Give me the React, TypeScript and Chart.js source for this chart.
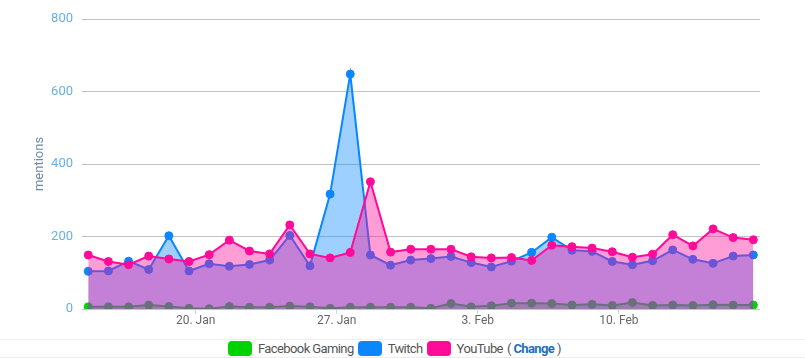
import React, { useEffect, useRef } from "react";
import { Chart, registerables } from "chart.js";

Chart.register(...registerables);

// Point 0 = 14 Jan, 16:00; one point per day
const facebookGaming = [6, 6, 6, 11, 7, 2, 1, 7, 5, 5, 8, 6, 2, 5, 5, 5, 5, 2, 15, 6, 9, 16, 16, 15, 11, 13, 10, 18, 10, 11, 10, 12, 11, 11];
const twitch = [104, 105, 132, 109, 202, 105, 125, 118, 123, 135, 203, 119, 317, 648, 149, 121, 135, 139, 145, 128, 116, 132, 156, 198, 162, 159, 131, 122, 133, 163, 137, 126, 146, 149];
const youtube = [149, 131, 122, 146, 138, 131, 150, 190, 160, 152, 232, 152, 141, 156, 351, 157, 165, 165, 165, 144, 141, 142, 134, 176, 172, 168, 158, 143, 151, 205, 174, 221, 197, 191];
const tickDays = [5.33, 12.33, 19.33, 26.33];
const tickLabels = ["20. Jan", "27. Jan", "3. Feb", "10. Feb"];
const yTicks = [0, 200, 400, 600, 800];
const seriesNames = ["Facebook Gaming", "Twitch", "YouTube"];
const seriesColors = ["#00d400", "#0a86ff", "#ff0a99"];
const seriesFills = ["rgba(0,212,0,0.4)", "rgba(10,134,255,0.4)", "rgba(255,10,153,0.4)"];

const FONT = 'Roboto, sans-serif';

export default function App() {
  const ref = useRef<HTMLCanvasElement | null>(null);

  useEffect(() => {
    document.body.style.margin = "0";
    const values = [facebookGaming, twitch, youtube];
    const datasets = values.map((vals, k) => ({
      label: seriesNames[k],
      data: vals.map((v, i) => ({ x: i, y: v })),
      borderColor: seriesColors[k],
      backgroundColor: seriesFills[k],
      pointBackgroundColor: seriesColors[k],
      pointBorderColor: seriesColors[k],
      pointRadius: 4,
      pointBorderWidth: 1,
      borderWidth: 2,
      tension: 0,
      fill: "origin",
      order: 2 - k,
    }));
    Chart.defaults.font.family = FONT;
    const chart = new Chart(ref.current!, {
      type: "line",
      data: { datasets },
      options: {
        animation: false,
        responsive: false,
        devicePixelRatio: 1,
        layout: { padding: { left: 0, right: 45, top: 19, bottom: 0 } },
        plugins: { legend: { display: false }, tooltip: { enabled: false } },
        scales: {
          x: {
            type: "linear",
            min: -0.31,
            max: 33.33,
            afterBuildTicks: (axis: any) => {
              axis.ticks = tickDays.map((v) => ({ value: v }));
            },
            afterFit: (axis: any) => {
              axis.height = 30;
            },
            ticks: {
              color: "#666666",
              font: { size: 12, family: FONT },
              padding: 0,
              maxRotation: 0,
              autoSkip: false,
              callback: (_v: any, i: number) => tickLabels[i],
            },
            grid: { drawOnChartArea: false, drawTicks: true, tickLength: 5, color: "#ccd6eb" },
            border: { display: false },
          },
          y: {
            min: 0,
            max: 800,
            afterBuildTicks: (axis: any) => {
              axis.ticks = yTicks.map((v) => ({ value: v }));
            },
            afterFit: (axis: any) => {
              axis.width = 82;
            },
            ticks: {
              color: "#6ab0e4",
              font: { size: 13, family: FONT },
              padding: 9,
            },
            grid: { color: "#c4c4c4", drawTicks: false, lineWidth: 1 },
            border: { display: false },
            title: {
              display: true,
              text: "mentions",
              color: "#6f8aa6",
              font: { size: 13, family: FONT },
              padding: { top: 32, bottom: 0 },
            },
          },
        },
      },
    });
    return () => chart.destroy();
  }, []);

  const legendItem = (k: number) => (
    <span key={k} style={{ display: "inline-flex", alignItems: "center", marginRight: 4 }}>
      <span
        style={{
          display: "inline-block",
          width: 24,
          height: 15,
          borderRadius: 4,
          background: seriesColors[k],
          marginRight: 6,
        }}
      />
      <span>{seriesNames[k]}</span>
    </span>
  );

  return (
    <div style={{ width: 805, height: 358, background: "#fff", position: "relative" }}>
      <canvas ref={ref} width={805} height={339} style={{ display: "block", width: 805, height: 339 }} />
      <div
        style={{
          position: "absolute",
          top: 339,
          left: 0,
          width: 577,
          height: 17,
          borderTop: "1px solid #f0f0f0",
          borderBottom: "1px solid #eeeeee",
          display: "flex",
          alignItems: "center",
          justifyContent: "flex-start",
          paddingLeft: 228,
          boxSizing: "content-box",
          fontFamily: FONT,
          fontSize: 13,
          letterSpacing: "-0.6px",
          color: "#555",
          whiteSpace: "nowrap",
        }}
      >
        {legendItem(0)}
        {legendItem(1)}
        {legendItem(2)}
        <span>
          ( <b style={{ color: "#1f6fbd" }}>Change</b> )
        </span>
      </div>
    </div>
  );
}
